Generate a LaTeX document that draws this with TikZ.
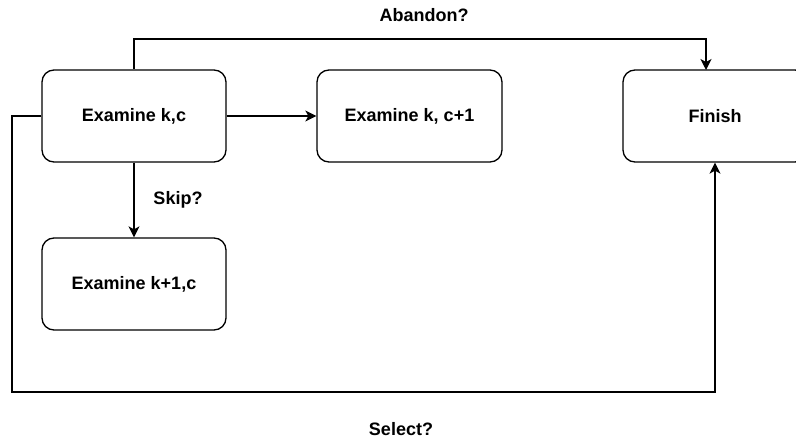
\documentclass[tikz,border=0pt]{standalone}
\usepackage{fontspec}
\setmainfont{Liberation Sans}
\usepackage{tikz}
\usetikzlibrary{arrows.meta}

\tikzset{
	statebox/.style={draw, line width=1.3pt, rounded corners=12pt,
		minimum width=184pt, minimum height=92pt, inner sep=0pt,
		font=\bfseries\fontsize{18}{21}\selectfont},
	lbl/.style={font=\bfseries\fontsize{18}{21}\selectfont},
	flow/.style={line width=1.3pt, -{Stealth[length=11pt,width=11pt,inset=3pt]}}
}

\begin{document}
\begin{tikzpicture}[x=1pt,y=-1pt]
		\useasboundingbox (0,0) rectangle (796,441);
		\clip (0,0) rectangle (796,441);
		\node[statebox] (E) at (134,116) {Examine k,c};
		\node[statebox, minimum width=185pt] (E') at (409.5,116) {Examine k, c+1};
		\node[statebox] (E'') at (134,284) {Examine k+1,c};
		\node[statebox] (F) at (715,116) {Finish};
		%
		\coordinate (top) at (134,39);
		\coordinate (low) at (12,392);
		\coordinate (Fin) at (706,70);
		%
		\node[lbl] (ab) at (424,15) {Abandon?};
		\node[lbl] (sk) at (178,200) {Skip?};
		\node[lbl] (se) at (401,429) {Select?};
		%
		\path[flow]
		% straight arrows
		(E) edge (E')
		(E) edge (E'');
		% round arrows
		\draw[flow] (E.north) -- (top) -| (Fin);
		\draw[flow] (E.west) -| (low) -| (F.south);
	\end{tikzpicture}
\end{document}
